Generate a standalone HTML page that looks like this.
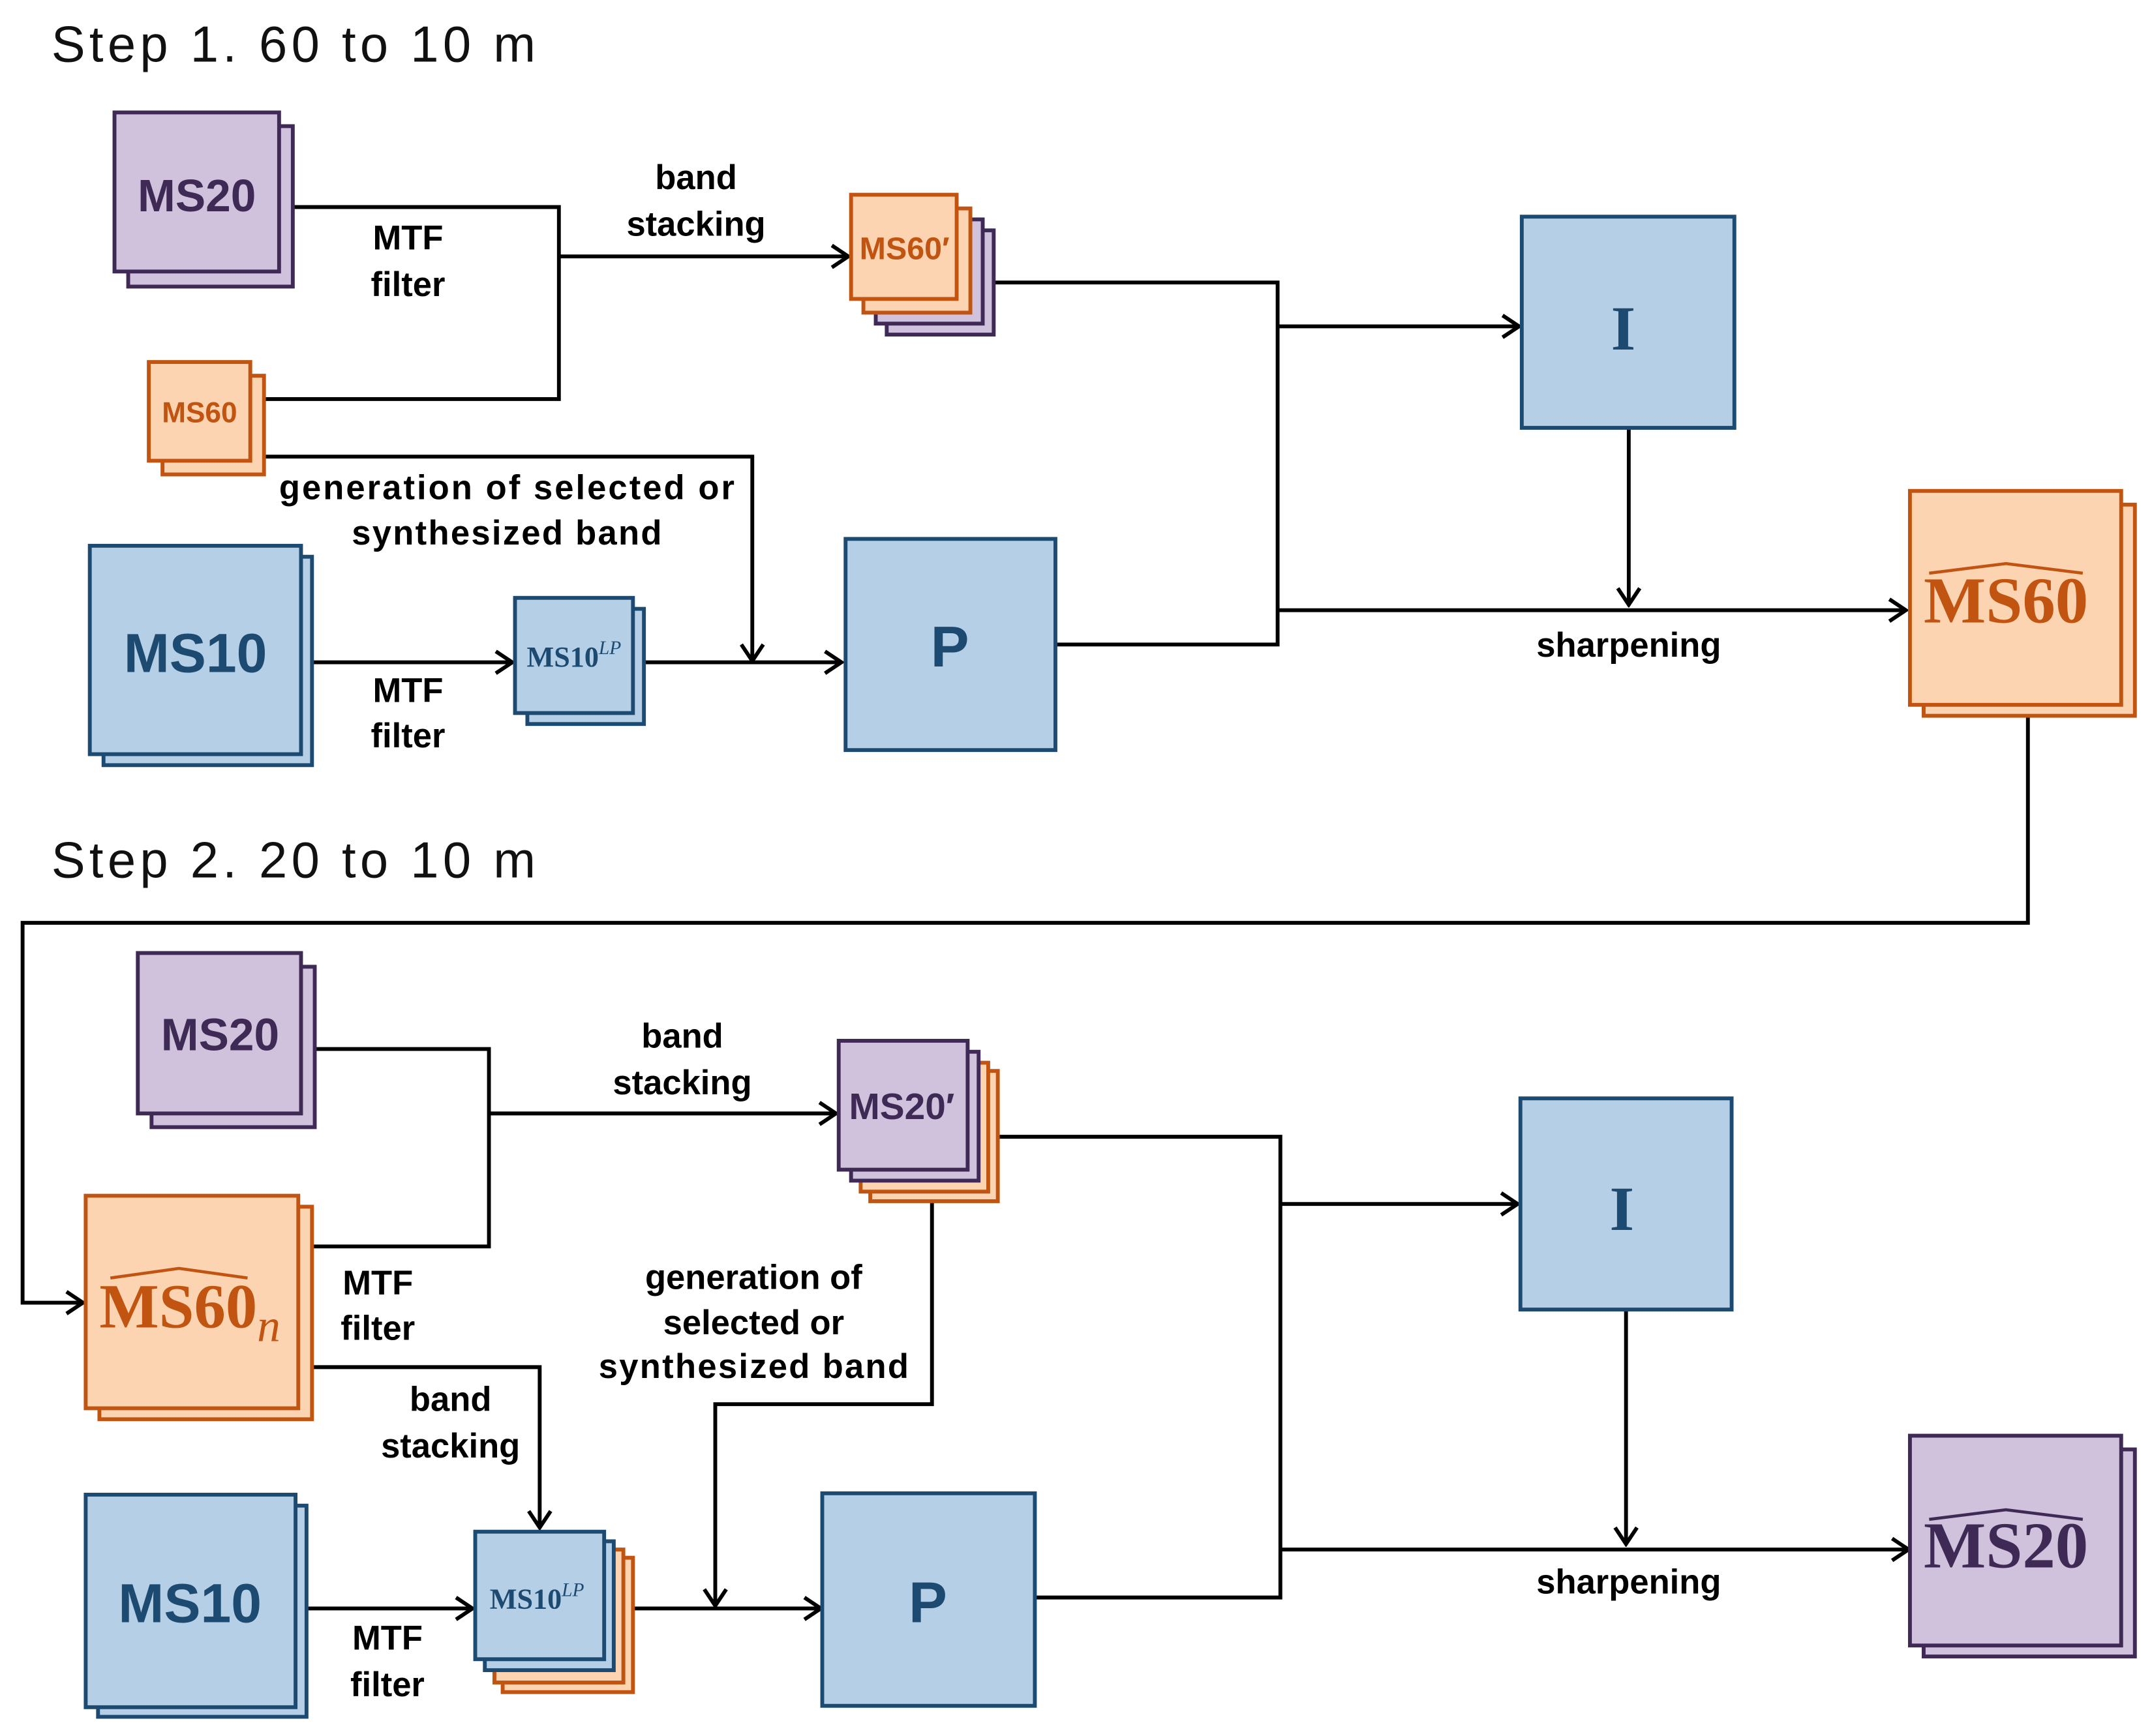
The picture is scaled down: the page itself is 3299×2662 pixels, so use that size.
<!DOCTYPE html>
<html><head><meta charset="utf-8"><style>
html,body{margin:0;padding:0;background:#fff;}
svg{display:block;}
.l{fill:none;stroke:#000;stroke-width:2.8;}
.t{font-family:"Liberation Sans",sans-serif;font-weight:bold;font-size:25px;fill:#000;text-anchor:middle;}
.st{font-family:"Liberation Sans",sans-serif;font-size:37px;fill:#111;}
.pu{fill:#d0c2dc;stroke:#3f2a55;stroke-width:2.8;}
.or{fill:#fdd4b2;stroke:#c05410;stroke-width:2.8;}
.bl{fill:#b4cfe6;stroke:#1d4a70;stroke-width:2.8;}
.bt{font-family:"Liberation Sans",sans-serif;font-weight:bold;text-anchor:middle;}
.sf{font-family:"Liberation Serif",serif;font-weight:bold;text-anchor:middle;}
</style></head><body>
<svg width="3299" height="2662" viewBox="0 0 1568 1266" xmlns="http://www.w3.org/2000/svg">
<defs>
<marker id="a" viewBox="0 0 20 20" refX="18" refY="10" markerWidth="20" markerHeight="20" markerUnits="userSpaceOnUse" orient="auto">
<polyline points="6,2 18,10 6,18" fill="none" stroke="#000" stroke-width="2.8"/>
</marker>
</defs>
<rect width="1568" height="1266" fill="#fff"/>

<text class="st" x="37" y="45" textLength="353" lengthAdjust="spacing">Step 1. 60 to 10 m</text>
<text class="st" x="37" y="640" textLength="353" lengthAdjust="spacing">Step 2. 20 to 10 m</text>

<!-- STEP 1 lines -->
<polyline class="l" points="213,151 407,151 407,291 192,291"/>
<line class="l" x1="407" y1="187" x2="618" y2="187" marker-end="url(#a)"/>
<polyline class="l" points="192,333 548,333 548,482" marker-end="url(#a)"/>
<line class="l" x1="227" y1="483" x2="373" y2="483" marker-end="url(#a)"/>
<line class="l" x1="469" y1="483" x2="613" y2="483" marker-end="url(#a)"/>
<polyline class="l" points="724,206 931,206 931,470 770,470"/>
<line class="l" x1="931" y1="238" x2="1107" y2="238" marker-end="url(#a)"/>
<line class="l" x1="931" y1="445" x2="1389" y2="445" marker-end="url(#a)"/>
<line class="l" x1="1187" y1="312" x2="1187" y2="441" marker-end="url(#a)"/>
<polyline class="l" points="1478,522 1478,673 16,673 16,950 60,950" marker-end="url(#a)"/>

<!-- STEP 1 labels -->
<text class="t" x="297" y="182">MTF</text><text class="t" x="297" y="216">filter</text>
<text class="t" x="507" y="138">band</text><text class="t" x="507" y="172">stacking</text>
<text class="t" x="369" y="364" textLength="332" lengthAdjust="spacing">generation of selected or</text>
<text class="t" x="369" y="397" textLength="226" lengthAdjust="spacing">synthesized band</text>
<text class="t" x="297" y="512">MTF</text><text class="t" x="297" y="545">filter</text>
<text class="t" x="1187" y="479">sharpening</text>

<!-- STEP 1 boxes -->
<rect class="pu" x="93" y="92" width="120" height="117"/>
<rect class="pu" x="83" y="82" width="120" height="116"/>
<text class="bt" x="143" y="154" font-size="33" fill="#3f2a55">MS20</text>

<rect class="or" x="118" y="274" width="74" height="72"/>
<rect class="or" x="108" y="264" width="74" height="72"/>
<text class="bt" x="145" y="308" font-size="21" fill="#c05410">MS60</text>

<rect class="pu" x="646" y="168" width="78" height="76"/>
<rect class="pu" x="638" y="160" width="78" height="76"/>
<rect class="or" x="629" y="152" width="78" height="76"/>
<rect class="or" x="620" y="142" width="77" height="76"/>
<text class="bt" x="659" y="189" font-size="23" fill="#c05410">MS60′</text>

<rect class="bl" x="75" y="406" width="152" height="152"/>
<rect class="bl" x="65" y="398" width="154" height="152"/>
<text class="bt" x="142" y="490" font-size="40" fill="#1d4a70">MS10</text>

<rect class="bl" x="384" y="444" width="85" height="84"/>
<rect class="bl" x="375" y="436" width="86" height="84"/>
<text class="sf" x="418" y="486" font-size="21" fill="#1d4a70">MS10<tspan font-style="italic" font-weight="normal" font-size="14" dy="-9">LP</tspan></text>

<rect class="bl" x="616" y="393" width="153" height="154"/>
<text class="bt" x="692" y="486" font-size="42" fill="#1d4a70">P</text>

<rect class="bl" x="1109" y="158" width="155" height="154"/>
<text class="sf" x="1183" y="255" font-size="46" fill="#1d4a70">I</text>

<rect class="or" x="1402" y="368" width="154" height="154"/>
<rect class="or" x="1392" y="358" width="154" height="156"/>
<text class="sf" x="1462" y="454" font-size="48" fill="#c05410">MS60</text>
<polyline points="1406,418 1462,411 1518,418" fill="none" stroke="#c05410" stroke-width="2.2"/>

<!-- STEP 2 lines -->
<polyline class="l" points="229,765 356,765 356,909 227,909"/>
<line class="l" x1="356" y1="812" x2="609" y2="812" marker-end="url(#a)"/>
<polyline class="l" points="227,997 393,997 393,1114" marker-end="url(#a)"/>
<polyline class="l" points="679,876 679,1024 521,1024 521,1171" marker-end="url(#a)"/>
<line class="l" x1="223" y1="1173" x2="344" y2="1173" marker-end="url(#a)"/>
<line class="l" x1="461" y1="1173" x2="598" y2="1173" marker-end="url(#a)"/>
<polyline class="l" points="727,829 933,829 933,1165 755,1165"/>
<line class="l" x1="933" y1="878" x2="1106" y2="878" marker-end="url(#a)"/>
<line class="l" x1="933" y1="1130" x2="1391" y2="1130" marker-end="url(#a)"/>
<line class="l" x1="1185" y1="955" x2="1185" y2="1126" marker-end="url(#a)"/>

<!-- STEP 2 labels -->
<text class="t" x="497" y="764">band</text><text class="t" x="497" y="798">stacking</text>
<text class="t" x="275" y="944">MTF</text><text class="t" x="275" y="977">filter</text>
<text class="t" x="328" y="1029">band</text><text class="t" x="328" y="1063">stacking</text>
<text class="t" x="549" y="940">generation of</text>
<text class="t" x="549" y="973">selected or</text>
<text class="t" x="549" y="1005" textLength="226" lengthAdjust="spacing">synthesized band</text>
<text class="t" x="282" y="1203">MTF</text><text class="t" x="282" y="1237">filter</text>
<text class="t" x="1187" y="1162">sharpening</text>

<!-- STEP 2 boxes -->
<rect class="pu" x="110" y="705" width="119" height="117"/>
<rect class="pu" x="100" y="695" width="119" height="117"/>
<text class="bt" x="160" y="766" font-size="33" fill="#3f2a55">MS20</text>

<rect class="or" x="634" y="781" width="93" height="95"/>
<rect class="or" x="627" y="775" width="93" height="94"/>
<rect class="pu" x="620" y="767" width="93" height="94"/>
<rect class="pu" x="611" y="759" width="94" height="94"/>
<text class="bt" x="657" y="816" font-size="27" fill="#3f2a55">MS20′</text>

<rect class="or" x="72" y="880" width="155" height="155"/>
<rect class="or" x="62" y="872" width="155" height="155"/>
<text class="sf" x="138" y="968" font-size="46" fill="#c05410">MS60<tspan font-style="italic" font-weight="normal" font-size="34" dy="10">n</tspan></text>
<polyline points="80,932 130,925 180,932" fill="none" stroke="#c05410" stroke-width="2.2"/>

<rect class="bl" x="71" y="1098" width="152" height="154"/>
<rect class="bl" x="62" y="1090" width="153" height="155"/>
<text class="bt" x="138" y="1183" font-size="40" fill="#1d4a70">MS10</text>

<rect class="or" x="366" y="1136" width="95" height="98"/>
<rect class="or" x="360" y="1130" width="94" height="97"/>
<rect class="bl" x="353" y="1124" width="94" height="94"/>
<rect class="bl" x="346" y="1117" width="94" height="93"/>
<text class="sf" x="391" y="1173" font-size="21" fill="#1d4a70">MS10<tspan font-style="italic" font-weight="normal" font-size="14" dy="-9">LP</tspan></text>

<rect class="bl" x="599" y="1089" width="155" height="155"/>
<text class="bt" x="676" y="1183" font-size="42" fill="#1d4a70">P</text>

<rect class="bl" x="1108" y="801" width="154" height="154"/>
<text class="sf" x="1182" y="897" font-size="46" fill="#1d4a70">I</text>

<rect class="pu" x="1402" y="1057" width="154" height="151"/>
<rect class="pu" x="1392" y="1047" width="154" height="153"/>
<text class="sf" x="1462" y="1143" font-size="48" fill="#3f2a55">MS20</text>
<polyline points="1406,1108 1462,1101 1518,1108" fill="none" stroke="#3f2a55" stroke-width="2.2"/>
</svg>
</body></html>
